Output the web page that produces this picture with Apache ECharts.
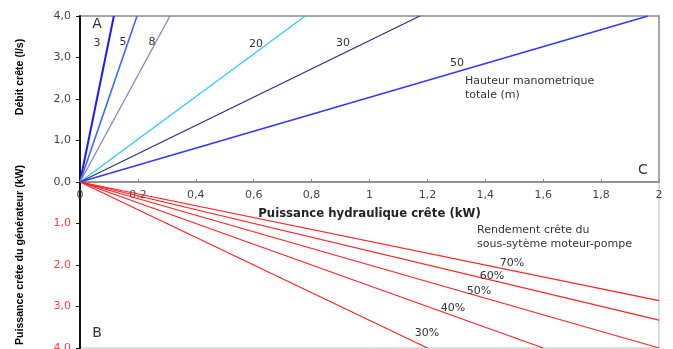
<!DOCTYPE html>
<html><head><meta charset="utf-8">
<script src="https://cdn.jsdelivr.net/npm/echarts@6/dist/echarts.min.js"></script>
<style>html,body{margin:0;padding:0;background:#fff}#c{width:673px;height:349px}</style>
</head><body><div id="c"></div>
<script>
// ---- data ----
const headLabels = ['3', '5', '8', '20', '30', '50'];          // Hauteur manométrique totale (m)
const headEndP   = [0.117, 0.197, 0.311, 0.778, 1.174, 1.962];  // kW where line reaches top
const headEndQ   = [4.0, 4.0, 4.0, 4.0, 4.0, 4.0];              // l/s
const effLabels  = ['30%', '40%', '50%', '60%', '70%'];         // rendement
const effEndP    = [1.2, 1.6, 2.0, 2.0, 2.0];                   // kW hydraulique
const effEndGen  = [4.0, 4.0, 4.0, 3.33, 2.86];                 // kW générateur
const xTickLabels = ['0', '0,2', '0,4', '0,6', '0,8', '1', '1,2', '1,4', '1,6', '1,8', '2'];
const yTickLabels = ['0,0', '1,0', '2,0', '3,0', '4,0'];

// ---- styles ----
const headColors = ['#1a1aff', '#3a6af5', '#8585c0', '#33ccff', '#2f2f80', '#3535ff'];
const headWidths = [2, 1.6, 1.3, 1.5, 1.3, 1.4];
const FONT = 'DejaVu Sans';

const series = [];
headLabels.forEach((h, i) => {
  series.push({
    type: 'line', name: h + ' m', xAxisIndex: 0, yAxisIndex: 0,
    data: [[0, 0], [headEndP[i], headEndQ[i]]],
    showSymbol: false, symbol: 'none', animation: false,
    lineStyle: { color: headColors[i], width: headWidths[i] }
  });
});
effLabels.forEach((e, i) => {
  series.push({
    type: 'line', name: e, xAxisIndex: 1, yAxisIndex: 1,
    data: [[0, 0], [effEndP[i], effEndGen[i]]],
    showSymbol: false, symbol: 'none', animation: false,
    lineStyle: { color: '#ff2222', width: 1.2 }
  });
});

function txt(text, x, y, size) {
  return {
    type: 'text', x: x, y: y, z: 100,
    style: { text: text, fontSize: size, fontFamily: FONT, fill: '#333',
      align: 'center', verticalAlign: 'middle', textAlign: 'center', textVerticalAlign: 'middle' }
  };
}
function txtL(text, x, y, size) {
  return {
    type: 'text', x: x, y: y, z: 100,
    style: { text: text, fontSize: size, fontFamily: FONT, fill: '#333',
      align: 'left', verticalAlign: 'middle', textAlign: 'left', textVerticalAlign: 'middle' }
  };
}

const chart = echarts.init(document.getElementById('c'), null, { renderer: 'canvas' });
chart.setOption({
  animation: false,
  backgroundColor: '#fff',
  grid: [
    { left: 80, top: 16, width: 579, height: 166, show: true, borderColor: '#888', borderWidth: 1.5,
      backgroundColor: 'transparent', containLabel: false, outerBoundsMode: 'none' },
    { left: 80, top: 182, width: 579, height: 166, show: true, borderColor: '#bbb', borderWidth: 1,
      backgroundColor: 'transparent', containLabel: false, outerBoundsMode: 'none' }
  ],
  xAxis: [
    { gridIndex: 0, type: 'value', min: 0, max: 2, interval: 0.2, position: 'bottom',
      axisLine: { show: true, onZero: false, lineStyle: { color: '#888', width: 1.5 } },
      axisTick: { show: true, inside: true, length: 3, lineStyle: { color: '#888' } },
      splitLine: { show: false },
      axisLabel: { color: '#444', fontSize: 11, fontFamily: FONT, margin: 8,
        formatter: v => xTickLabels[Math.round(v / 0.2)] },
      name: 'Puissance hydraulique crête (kW)', nameLocation: 'middle', nameGap: 26,
      nameTextStyle: { color: '#222', fontSize: 11.7, fontWeight: 'bold', fontFamily: FONT } },
    { gridIndex: 1, type: 'value', min: 0, max: 2, interval: 0.2, show: false }
  ],
  yAxis: [
    { gridIndex: 0, type: 'value', min: 0, max: 4, interval: 1,
      axisLine: { show: true, onZero: false, lineStyle: { color: '#111', width: 2 } },
      axisTick: { show: true, length: 4, lineStyle: { color: '#111' } },
      splitLine: { show: false },
      axisLabel: { color: '#444', fontSize: 11, fontFamily: FONT, margin: 9,
        formatter: v => yTickLabels[Math.round(v)] },
      name: 'Débit crête (l/s)', nameLocation: 'middle', nameRotate: 90, nameGap: 54,
      nameTextStyle: { color: '#000', fontSize: 10.6, fontWeight: 'bold', fontFamily: 'Liberation Sans', padding: [0, 0, 0, 44] } },
    { gridIndex: 1, type: 'value', min: 0, max: 4, interval: 1, inverse: true,
      axisLine: { show: true, onZero: false, lineStyle: { color: '#111', width: 2 } },
      axisTick: { show: true, length: 4, lineStyle: { color: '#111' } },
      splitLine: { show: false },
      axisLabel: { color: '#ff3b3b', fontSize: 11, fontFamily: FONT, margin: 9, showMinLabel: false,
        formatter: v => yTickLabels[Math.round(v)] },
      name: 'Puissance crête du générateur (kW)', nameLocation: 'middle', nameRotate: 90, nameGap: 54,
      nameTextStyle: { color: '#000', fontSize: 10.6, fontWeight: 'bold', fontFamily: 'Liberation Sans', padding: [0, 0, 0, 20] } }
  ],
  series: series,
  graphic: [
    txt('A', 97, 24, 14),
    txt('B', 97, 333, 14),
    txt('C', 643, 170, 14),
    txt(headLabels[0], 97, 43, 11),
    txt(headLabels[1], 123, 42, 11),
    txt(headLabels[2], 152, 42, 11),
    txt(headLabels[3], 256, 44, 11),
    txt(headLabels[4], 343, 43, 11),
    txt(headLabels[5], 457, 63, 11),
    txtL('Hauteur manometrique', 465, 81, 11),
    txtL('totale (m)', 465, 95, 11),
    txtL('Rendement crête du', 477, 230, 11),
    txtL('sous-sytème moteur-pompe', 477, 244, 11),
    txt(effLabels[4], 512, 263, 11),
    txt(effLabels[3], 492, 276, 11),
    txt(effLabels[2], 479, 291, 11),
    txt(effLabels[1], 453, 308, 11),
    txt(effLabels[0], 427, 333, 11)
  ]
});
</script>
</body></html>
